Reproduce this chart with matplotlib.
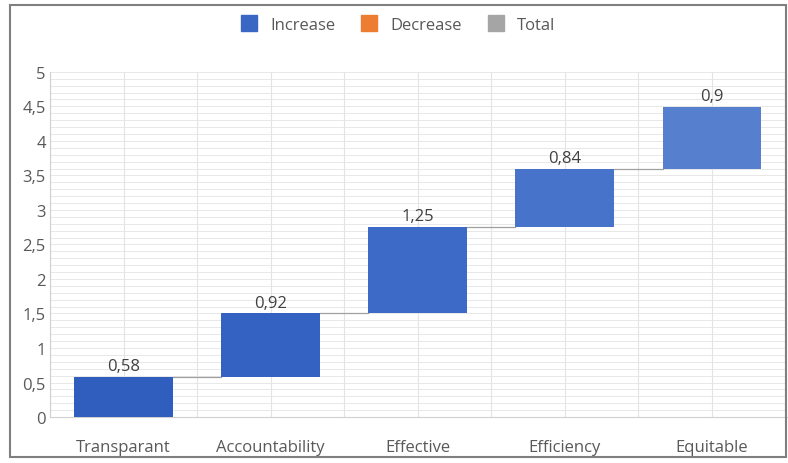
import matplotlib.pyplot as plt
import numpy as np
from matplotlib.lines import Line2D
from matplotlib.patches import Rectangle

## Data
categories = ["Transparant", "Accountability", "Effective", "Efficiency", "Equitable"]
increases = [0.58, 0.92, 1.25, 0.84, 0.9]
labels = ["0,58", "0,92", "1,25", "0,84", "0,9"]
yticks = [0, 0.5, 1, 1.5, 2, 2.5, 3, 3.5, 4, 4.5, 5]
ytick_labels = ["0", "0,5", "1", "1,5", "2", "2,5", "3", "3,5", "4", "4,5", "5"]

bar_colors = ["#2f5ebf", "#3462c2", "#3d6ac6", "#4773ca", "#5680cd"]
grey = "#595959"

plt.rcParams['font.family'] = ['Open Sans', 'DejaVu Sans']

fig = plt.figure(figsize=(7.88, 4.64), dpi=100)
ax = fig.add_axes([0.0635, 0.099, 0.935, 0.744])

x = np.arange(len(categories))
bottoms = np.concatenate([[0], np.cumsum(increases)[:-1]])
tops = bottoms + np.array(increases)

# grid: minor every 0.1, vertical at centers and boundaries
for yv in np.arange(0, 5.01, 0.1):
    ax.axhline(yv, color="#e4e4e4", lw=0.6, zorder=0)
for xv in np.arange(-0.5, len(categories) + 0.01, 0.5):
    ax.axvline(xv, color="#e4e4e4", lw=0.8, zorder=0)

ax.bar(x, increases, bottom=bottoms, width=0.67, color=bar_colors, zorder=3,
       edgecolor="none")

# connectors
for i in range(len(categories) - 1):
    ax.plot([x[i] + 0.335, x[i + 1] - 0.335], [tops[i], tops[i]],
            color="#a0a0a0", lw=0.9, zorder=2)

for i in range(len(categories)):
    ax.text(x[i], tops[i] + 0.04, labels[i], ha="center", va="bottom",
            fontsize=12, color="#404040")

ax.set_xlim(-0.5, len(categories) - 0.5 + 0.01)
ax.set_ylim(0, 5)
ax.set_yticks(yticks)
ax.set_yticklabels(ytick_labels)
ax.set_xticks(x)
ax.set_xticklabels(categories)
ax.tick_params(axis="y", length=0, labelsize=12, colors=grey, pad=3)
ax.tick_params(axis="x", length=0, labelsize=12, colors=grey, pad=16)
for s in ax.spines.values():
    s.set_visible(False)
ax.spines["left"].set_visible(True)
ax.spines["left"].set_color("#d0d0d0")
ax.spines["bottom"].set_visible(True)
ax.spines["bottom"].set_color("#d0d0d0")

# legend
handles = [Line2D([], [], marker="s", ls="none", markersize=11, color=c)
           for c in ["#3a66c4", "#ed7d31", "#a5a5a5"]]
fig.legend(handles, ["Increase", "Decrease", "Total"], loc="center",
           bbox_to_anchor=(0.5, 0.945), ncol=3, frameon=False, fontsize=12,
           labelcolor=grey, handletextpad=0.3, columnspacing=1.0)

# outer frame
fig.patches.append(Rectangle((0.013, 0.013), 0.985, 0.974, transform=fig.transFigure,
                             fill=False, edgecolor="#7f7f7f", lw=1.5))

fig.savefig("out.png", dpi=100)
